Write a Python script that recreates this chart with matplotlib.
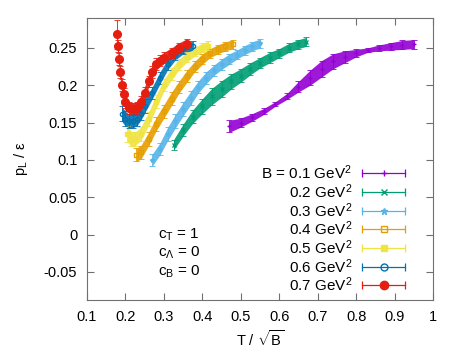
import matplotlib
matplotlib.use("Agg")
import matplotlib.pyplot as plt
import numpy as np
from matplotlib.ticker import FuncFormatter

plt.rcParams['font.family'] = ['Liberation Sans', 'DejaVu Sans']
plt.rcParams['font.size'] = 10
plt.rcParams['mathtext.fontset'] = 'custom'
plt.rcParams['mathtext.rm'] = 'Liberation Sans'
plt.rcParams['mathtext.it'] = 'Liberation Sans'

# 数据: T/sqrt(B), p_L/eps, 误差
labels = ['B = 0.1 GeV$^2$', '0.2 GeV$^2$', '0.3 GeV$^2$', '0.4 GeV$^2$',
          '0.5 GeV$^2$', '0.6 GeV$^2$', '0.7 GeV$^2$']
colors = ['#9400d3', '#009e73', '#56b4e9', '#e69f00', '#f0e442', '#0072b2', '#e51e10']
markers = ['+', 'x', '*', 's', 's', 'o', 'o']
filled = [True, True, True, False, True, False, True]

t01 = [0.47, 0.50, 0.53, 0.56, 0.59, 0.62, 0.65, 0.68, 0.71, 0.74, 0.77, 0.80, 0.83, 0.86, 0.89, 0.92, 0.95]
p01 = [0.145, 0.150, 0.157, 0.165, 0.175, 0.185, 0.198, 0.210, 0.222, 0.232, 0.238, 0.243, 0.247, 0.250, 0.252, 0.254, 0.255]
e01 = [0.008, 0.006, 0.005, 0.004, 0.003, 0.004, 0.007, 0.010, 0.011, 0.010, 0.008, 0.005, 0.003, 0.004, 0.005, 0.006, 0.006]

t02 = [0.325, 0.35, 0.375, 0.40, 0.425, 0.45, 0.475, 0.50, 0.525, 0.55, 0.575, 0.60, 0.625, 0.65, 0.67]
p02 = [0.120, 0.140, 0.158, 0.172, 0.185, 0.195, 0.205, 0.213, 0.222, 0.230, 0.237, 0.243, 0.250, 0.255, 0.258]
e02 = [0.007, 0.008, 0.009, 0.010, 0.011, 0.011, 0.010, 0.009, 0.008, 0.007, 0.007, 0.006, 0.006, 0.006, 0.006]

t03 = [0.27, 0.29, 0.31, 0.33, 0.35, 0.37, 0.39, 0.41, 0.43, 0.45, 0.47, 0.49, 0.51, 0.53, 0.55]
p03 = [0.100, 0.115, 0.135, 0.152, 0.168, 0.183, 0.198, 0.210, 0.220, 0.228, 0.235, 0.241, 0.247, 0.252, 0.256]
e03 = [0.008, 0.008, 0.009, 0.009, 0.009, 0.009, 0.008, 0.008, 0.007, 0.007, 0.007, 0.006, 0.006, 0.006, 0.006]

t04 = [0.228, 0.24, 0.26, 0.28, 0.30, 0.32, 0.34, 0.36, 0.38, 0.40, 0.42, 0.44, 0.46, 0.48]
p04 = [0.107, 0.110, 0.128, 0.148, 0.165, 0.182, 0.198, 0.212, 0.225, 0.235, 0.243, 0.248, 0.252, 0.255]
e04 = [0.009, 0.009, 0.009, 0.009, 0.009, 0.009, 0.008, 0.008, 0.007, 0.007, 0.006, 0.006, 0.006, 0.006]

t05 = [0.205, 0.215, 0.225, 0.24, 0.26, 0.28, 0.30, 0.32, 0.34, 0.36, 0.38, 0.40, 0.415]
p05 = [0.135, 0.128, 0.128, 0.135, 0.155, 0.178, 0.200, 0.215, 0.228, 0.238, 0.245, 0.250, 0.253]
e05 = [0.011, 0.010, 0.009, 0.009, 0.009, 0.009, 0.008, 0.008, 0.007, 0.007, 0.006, 0.006, 0.006]

t06 = [0.19, 0.20, 0.21, 0.22, 0.23, 0.24, 0.25, 0.27, 0.29, 0.31, 0.33, 0.35, 0.375]
p06 = [0.162, 0.155, 0.152, 0.152, 0.155, 0.162, 0.172, 0.190, 0.210, 0.228, 0.240, 0.248, 0.253]
e06 = [0.010, 0.010, 0.009, 0.009, 0.009, 0.009, 0.009, 0.008, 0.008, 0.007, 0.006, 0.006, 0.006]

t07 = [0.178, 0.180, 0.183, 0.186, 0.19, 0.195, 0.20, 0.21, 0.22, 0.23, 0.24, 0.25, 0.26, 0.27, 0.28, 0.29, 0.30, 0.32, 0.34, 0.36]
p07 = [0.268, 0.252, 0.235, 0.218, 0.200, 0.188, 0.178, 0.170, 0.168, 0.170, 0.178, 0.190, 0.205, 0.218, 0.228, 0.233, 0.237, 0.243, 0.250, 0.255]
e07 = [0.019, 0.008, 0.008, 0.008, 0.008, 0.008, 0.008, 0.008, 0.008, 0.008, 0.008, 0.008, 0.008, 0.008, 0.008, 0.007, 0.007, 0.007, 0.007, 0.007]

T = [t01, t02, t03, t04, t05, t06, t07]
P = [p01, p02, p03, p04, p05, p06, p07]
E = [e01, e02, e03, e04, e05, e06, e07]

fig = plt.figure(figsize=(4.5, 3.6), dpi=100)
ax = fig.add_axes([87 / 450, 60 / 360, 346 / 450, 282 / 360])

for i in range(7):
    t = np.array(T[i]); p = np.array(P[i]); e = np.array(E[i])
    ax.fill_between(t, p - e, p + e, color=colors[i], alpha=0.9, lw=0)
    ms = 5.5 if i == 6 else 3
    ax.errorbar(t, p, yerr=e, color=colors[i], marker=markers[i], ms=ms,
                mfc=colors[i] if filled[i] else 'none', mec=colors[i],
                lw=0, elinewidth=0.6, capsize=2, capthick=0.6)

# 图例(右对齐文字)
ys = [0.450, 0.383, 0.316, 0.252, 0.184, 0.117, 0.053]
for i in range(7):
    y = ys[i]
    ax.text(0.766, y, labels[i], transform=ax.transAxes, ha='right', va='center', fontsize=11)
    ax.plot([0.795, 0.92], [y, y], transform=ax.transAxes, color=colors[i], lw=0.9, clip_on=False)
    ax.plot([0.795, 0.92], [y, y], transform=ax.transAxes, color=colors[i], lw=0,
            marker='|', ms=6, mew=0.9, clip_on=False)
    ms = 6 if i == 6 else 5
    ax.plot([0.858], [y], transform=ax.transAxes, color=colors[i], marker=markers[i], ms=ms,
            mfc=colors[i] if filled[i] else 'none', mec=colors[i], lw=0, clip_on=False)

ax.text(0.205, 0.232, '$c_T$ = 1', transform=ax.transAxes, fontsize=11, va='center')
ax.text(0.205, 0.168, '$c_\\Lambda$ = 0', transform=ax.transAxes, fontsize=11, va='center')
ax.text(0.205, 0.100, '$c_B$ = 0', transform=ax.transAxes, fontsize=11, va='center')

ax.set_xlim(0.1, 1.0)
ax.set_ylim(-0.0875, 0.29)
ax.set_xticks(np.arange(0.1, 1.01, 0.1))
ax.set_yticks([-0.05, 0, 0.05, 0.1, 0.15, 0.2, 0.25])
fmt = FuncFormatter(lambda v, pos: '%g' % round(v, 3))
ax.xaxis.set_major_formatter(fmt)
ax.yaxis.set_major_formatter(fmt)
ax.tick_params(direction='in', top=True, right=True, length=5, color='#707070', labelsize=10.5, pad=7)
for s in ax.spines.values():
    s.set_color('#707070')
ax.set_xlabel('T / $\\sqrt{\\mathrm{B}}$', fontsize=10.5)
ax.set_ylabel('p$_\\mathrm{L}$ / ε', fontsize=10.5, labelpad=10)

fig.savefig('out.png', dpi=100)
